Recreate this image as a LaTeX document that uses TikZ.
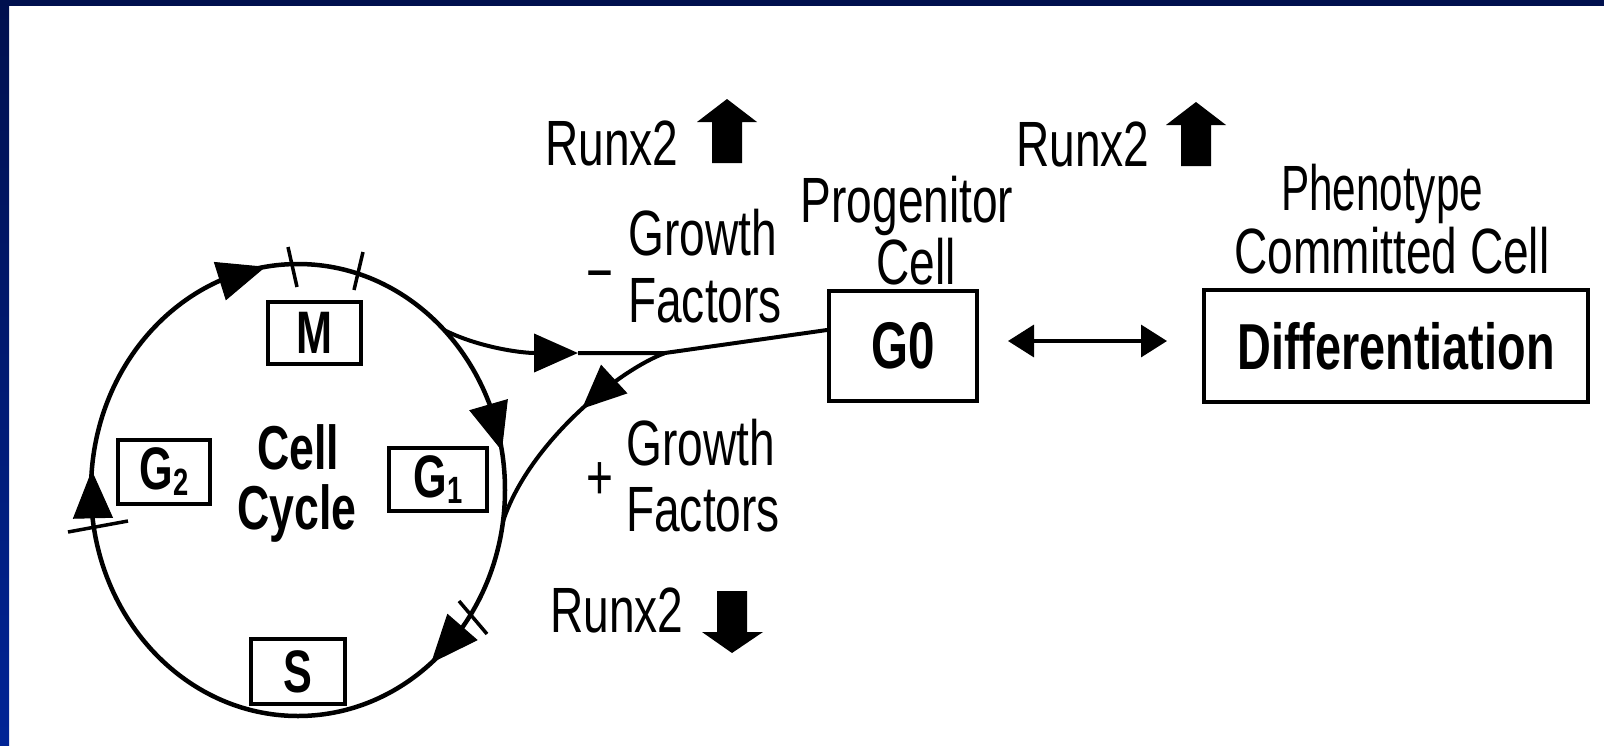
\documentclass[tikz,border=0pt]{standalone}
\usepackage{fontspec}
\setmainfont{Liberation Sans}[FakeStretch=0.72]
\newfontfamily\phenofont{Liberation Sans}[FakeStretch=0.66]
\usetikzlibrary{arrows.meta,shapes.geometric,decorations.markings,calc}
\definecolor{navytop}{RGB}{0,16,78}
\definecolor{navybot}{RGB}{0,36,150}
\begin{document}
\begin{tikzpicture}[x=1pt,y=-1pt,
  box/.style={draw, line width=4pt, inner sep=0pt, font=\bfseries\fontsize{60}{60}\selectfont},
  lbl/.style={anchor=base west, inner sep=0pt, font=\fontsize{64}{64}\selectfont},
  lblc/.style={anchor=base, inner sep=0pt, font=\fontsize{64}{64}\selectfont},
  bold/.style={anchor=base, inner sep=0pt, font=\bfseries\fontsize{62}{62}\selectfont},
  conn/.style={line width=4pt},
  bigtip/.style={line width=1pt, -{Triangle[length=48pt,width=40pt]}},
  tick/.style={line width=3.5pt},
  midarrow/.style={postaction={decorate}, decoration={markings, mark=at position #1 with {\arrow{Triangle[length=44pt,width=38pt]}}}}
]
\useasboundingbox (0,0) rectangle (1604,745);
\fill[white] (0,0) rectangle (1604,745);
\shade[top color=navytop, bottom color=navybot] (0,0) rectangle (9,745);
\fill[navytop] (0,0) rectangle (1604,6);

% cell cycle
\node[draw, ellipse, line width=4.5pt, minimum width=414pt, minimum height=452pt, inner sep=0pt] (cyc) at (298,490) {};
\foreach \a in {247,261,335,350,37,50,172,185,315,8} {
  \coordinate (e\a) at ({298+207*cos(\a)},{490+226*sin(\a)});
}
\draw[bigtip] (e247) -- (e261);
\draw[bigtip] (e335) -- (e350);
\draw[bigtip] (e37) -- (e50);
\draw[bigtip] (e172) -- (e185);

% checkpoints
\draw[tick] (288,247) -- (297,287);
\draw[tick] (363,252) -- (354,290);
\draw[tick] (68,532) -- (128,521);
\draw[tick] (459,601) -- (487,634);

\node[box, minimum width=93pt, minimum height=62pt] (M) at (314.5,333) {M};
\node[box, minimum width=92pt, minimum height=64pt] (G2) at (164,472) {G\raisebox{-6pt}{\fontsize{38}{38}\selectfont 2}};
\node[box, minimum width=98pt, minimum height=63pt] (G1) at (438,479.5) {G\raisebox{-6pt}{\fontsize{38}{38}\selectfont 1}};
\node[box, minimum width=94pt, minimum height=65pt] (S) at (298,671.5) {S};
\node[bold] (cell) at (298,469) {Cell};
\node[bold] (cycle) at (297,529) {Cycle};

% G0 and differentiation
\node[box, minimum width=148pt, minimum height=110pt, font=\bfseries\fontsize{66}{66}\selectfont] (G0) at (903,346) {G0};
\node[box, minimum width=384pt, minimum height=112pt, font=\bfseries\fontsize{65}{65}\selectfont] (D) at (1396,346) {Differentiation};
\draw[line width=3.5pt, {Triangle[length=26pt,width=32pt]}-{Triangle[length=26pt,width=32pt]}, shorten <=29pt, shorten >=35pt] ([yshift=5pt]G0.east) -- ([yshift=5pt]D.west);

% branches
\coordinate (a1) at (578,353);
\coordinate (jn) at (665,353);
\coordinate (g0in) at ([yshift=16pt]G0.west);
\draw[conn, -{Triangle[length=44pt,width=38pt]}] (e315) .. controls (478,347) and (520,353) .. (a1);
\draw[conn] (a1) -- (jn) -- (g0in);
\draw[conn, midarrow=0.42] (jn) .. controls (615,372) and (528,445) .. (e8);

% labels
\node[lbl] (r1) at (545,165) {Runx2};
\fill (712,163) -- (712,122) -- (697,122) -- (727,99) -- (757,122) -- (742,122) -- (742,163) -- cycle;
\node[lbl] (r2) at (1016,166) {Runx2};
\fill (1181,166) -- (1181,125) -- (1166,125) -- (1196,102) -- (1226,125) -- (1211,125) -- (1211,166) -- cycle;
\node[lbl] (r3) at (550,632) {Runx2};
\fill (717,591) -- (747,591) -- (747,632) -- (763,632) -- (732,653) -- (702,632) -- (717,632) -- cycle;

\node[lblc] (minus) at (600,294) {−};
\node[lbl] (gf1) at (628,255) {Growth};
\node[lbl] (ff1) at (628,322) {Factors};
\node[lblc] (plus) at (600,499) {+};
\node[lbl] (gf2) at (626,465) {Growth};
\node[lbl] (ff2) at (626,531) {Factors};

\node[lblc] (prog) at (907,222) {Progenitor};
\node[lblc] (progcell) at (916,284) {Cell};
\node[lblc, font=\phenofont\fontsize{64}{64}\selectfont] (pheno) at (1382,210) {Phenotype};
\node[lblc] (comm) at (1392,273) {Committed Cell};
\end{tikzpicture}
\end{document}
